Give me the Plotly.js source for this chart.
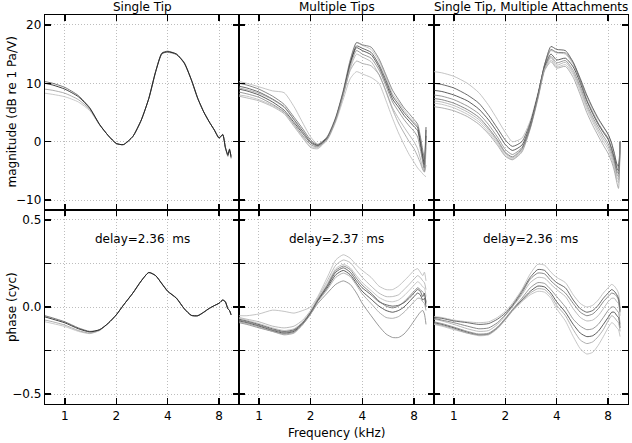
<!DOCTYPE html>
<html>
<head>
<meta charset="utf-8">
<script src="https://cdn.plot.ly/plotly-3.0.1.min.js"></script>
<style>html,body{margin:0;padding:0;background:#fff;}#chart{width:632px;height:443px;}</style>
</head>
<body>
<div id="chart"></div>
<script>
// Frequency samples (kHz)
const freq = [0.765, 0.85, 1.0, 1.2, 1.4, 1.6, 1.8, 2.0, 2.2, 2.5, 2.8, 3.1, 3.4, 3.7, 4.0, 4.5, 5.0, 5.5, 6.0, 6.5, 7.0, 7.5, 8.0, 8.4, 8.7, 9.0, 9.2, 9.4];

const panelTitles = ['Single Tip', 'Multiple Tips', 'Single Tip, Multiple Attachments'];
const delayLabels = ['delay=2.36\u00a0 ms', 'delay=2.37\u00a0 ms', 'delay=2.36\u00a0 ms'];
const xTickVals = [1, 2, 4, 8];
const xTickText = ['1', '2', '4', '8'];
const magTickVals = [-10, 0, 10, 20];
const magTickText = ['\u221210', '0', '10', '20'];
const phTickVals = [-0.5, -0.25, 0, 0.25, 0.5];
const phTickText = ['\u22120.5', '', '0.0', '', '0.5'];

// Magnitude (dB re 1 Pa/V) — Single Tip
const magSingleA = [10.0, 9.7, 9.0, 7.7, 5.7, 2.9, 1.0, -0.3, -0.5, 0.9, 3.7, 7.4, 12.0, 15.1, 15.4, 15.0, 13.5, 10.6, 7.4, 5.1, 3.4, 2.0, 0.6, 1.2, -1.0, -2.2, -1.3, -2.7];
const magSingleB = [10.3, 10.0, 9.3, 7.9, 5.8, 2.9, 1.0, -0.3, -0.5, 0.9, 3.7, 7.4, 12.0, 15.2, 15.5, 15.0, 13.4, 10.6, 7.4, 5.1, 3.4, 2.0, 0.7, 1.2, -0.9, -2.5, -1.5, -2.4];
const magSingleC = [9.0, 8.8, 8.3, 7.2, 5.5, 2.9, 1.0, -0.3, -0.5, 0.9, 3.7, 7.4, 12.0, 15.1, 15.3, 14.9, 13.5, 10.6, 7.4, 5.1, 3.4, 2.0, 0.6, 1.3, -1.1, -2.3, -1.2, -2.9];
const magSingleD = [8.3, 8.1, 7.7, 6.8, 5.3, 2.8, 1.0, -0.3, -0.5, 0.9, 3.7, 7.4, 12.0, 15.0, 15.4, 15.0, 13.6, 10.6, 7.4, 5.1, 3.4, 2.0, 0.6, 1.2, -1.0, -2.2, -1.4, -2.6];

// Magnitude — Multiple Tips
const magMulti1 = [10.3, 10.0, 9.4, 8.7, 8.4, 6.0, 3.2, 0.8, -0.4, 0.8, 4.0, 8.6, 13.6, 16.9, 16.5, 15.8, 13.8, 11.0, 8.2, 6.8, 5.4, 4.3, 3.4, 2.6, 0.5, -2.0, -3.5, 2.5];
const magMulti2 = [9.5, 9.2, 8.5, 7.3, 6.0, 3.8, 1.8, 0.0, -0.6, 0.7, 4.0, 8.5, 13.5, 16.4, 16.0, 15.3, 13.2, 10.5, 7.8, 6.4, 5.0, 4.0, 3.1, 2.4, 0.2, -2.5, -4.0, 2.0];
const magMulti3 = [9.0, 8.7, 8.0, 6.8, 5.4, 3.3, 1.4, -0.2, -0.7, 0.6, 3.9, 8.4, 13.4, 16.1, 15.6, 14.9, 12.8, 10.0, 7.3, 5.9, 4.5, 3.5, 2.6, 1.9, -0.4, -3.0, -4.5, 1.0];
const magMulti4 = [8.5, 8.2, 7.6, 6.4, 5.1, 3.0, 1.0, -0.5, -0.9, 0.5, 3.8, 8.3, 13.0, 15.6, 15.0, 14.3, 12.3, 9.5, 6.8, 5.2, 3.8, 2.7, 1.8, 0.8, -1.2, -3.5, -5.0, 0.0];
const magMulti5 = [7.8, 7.5, 7.0, 6.0, 4.8, 2.6, 0.6, -1.0, -1.2, 0.4, 3.7, 8.0, 12.5, 15.0, 14.5, 13.7, 11.5, 8.7, 5.8, 4.0, 2.5, 1.2, 0.0, -1.2, -2.8, -4.6, -5.2, -1.0];
const magMulti6 = [8.0, 7.8, 7.2, 6.2, 5.0, 2.8, 0.8, -0.8, -1.0, 0.3, 3.4, 7.3, 10.8, 12.0, 11.6, 11.0, 10.0, 7.0, 4.0, 1.5, -0.5, -2.2, -3.5, -4.5, -5.0, -5.5, -5.8, -6.0];
const magMulti7 = [9.2, 8.9, 8.3, 7.2, 5.9, 3.7, 1.5, -0.1, -0.8, 0.5, 3.7, 8.0, 12.2, 13.8, 13.4, 13.0, 11.5, 8.5, 5.5, 3.2, 1.5, 0.0, -1.2, -2.5, -3.6, -4.8, -5.2, -4.0];
const magMulti8 = [10.0, 9.7, 9.0, 7.8, 6.4, 4.2, 2.2, 0.3, -0.5, 0.9, 4.2, 8.8, 14.0, 17.0, 16.6, 16.2, 14.2, 11.4, 8.8, 7.2, 5.8, 4.8, 3.8, 3.0, 1.0, -1.5, -3.0, 2.5];

// Magnitude — Single Tip, Multiple Attachments
const magAttach1 = [12.0, 11.8, 11.2, 10.0, 8.4, 6.2, 3.8, 1.6, 0.0, 0.6, 3.6, 8.2, 13.0, 15.6, 15.2, 15.0, 13.2, 10.5, 7.8, 5.5, 3.8, 2.5, 1.2, -0.5, -2.0, -4.0, -4.5, 0.0];
const magAttach2 = [10.0, 9.8, 9.2, 8.0, 6.6, 4.5, 2.3, 0.3, -0.8, 0.0, 3.2, 8.0, 13.2, 16.3, 15.8, 15.6, 13.6, 10.8, 8.0, 5.8, 4.0, 2.6, 1.3, -0.3, -2.0, -3.8, -4.2, 0.0];
const magAttach3 = [8.8, 8.6, 8.0, 7.0, 5.6, 3.7, 1.6, -0.5, -1.5, -0.6, 2.8, 7.8, 12.8, 15.0, 14.0, 14.3, 12.8, 10.0, 7.0, 4.8, 3.0, 1.6, 0.4, -1.2, -2.8, -4.5, -5.0, 0.0];
const magAttach4 = [8.0, 7.8, 7.2, 6.1, 4.8, 2.9, 0.8, -1.3, -2.2, -1.0, 2.6, 7.6, 12.6, 14.6, 13.5, 13.9, 12.2, 9.4, 6.4, 4.2, 2.5, 1.0, -0.3, -2.0, -3.5, -5.5, -6.0, 0.0];
const magAttach5 = [7.0, 6.8, 6.2, 5.1, 3.8, 2.0, 0.0, -2.0, -2.8, -1.4, 2.4, 7.5, 12.5, 14.4, 13.1, 13.6, 11.8, 9.0, 6.0, 3.8, 2.0, 0.5, -0.8, -2.5, -4.0, -6.0, -6.5, 0.0];
const magAttach6 = [6.6, 6.4, 5.8, 4.7, 3.4, 1.6, -0.3, -2.3, -3.0, -1.6, 2.3, 7.4, 12.4, 14.0, 12.8, 13.2, 11.5, 8.6, 5.6, 3.4, 1.6, 0.0, -1.3, -3.0, -4.5, -6.5, -7.0, 0.0];
const magAttach7 = [6.0, 5.8, 5.3, 4.3, 3.0, 1.3, -0.6, -2.5, -3.1, -1.8, 2.2, 7.2, 12.2, 13.7, 12.6, 12.9, 11.0, 8.0, 5.0, 2.8, 1.0, -0.6, -2.0, -3.5, -5.0, -7.0, -8.0, 0.0];
const magAttach8 = [7.4, 7.2, 6.6, 5.5, 4.2, 2.3, 0.3, -1.8, -2.6, -1.2, 2.5, 7.8, 13.2, 15.8, 15.3, 15.2, 13.5, 10.5, 7.2, 5.0, 3.2, 1.8, 0.6, -1.5, -3.0, -5.0, -5.5, 0.0];

// Phase (cyc) — Single Tip
const phSingleA = [-0.057, -0.07, -0.091, -0.125, -0.143, -0.13, -0.092, -0.045, 0.01, 0.08, 0.15, 0.198, 0.18, 0.133, 0.09, 0.05, -0.01, -0.048, -0.05, -0.03, -0.008, 0.008, 0.022, 0.04, 0.03, -0.01, -0.02, -0.045];
const phSingleB = [-0.05, -0.063, -0.085, -0.12, -0.14, -0.13, -0.092, -0.045, 0.01, 0.08, 0.15, 0.198, 0.18, 0.133, 0.09, 0.052, -0.01, -0.048, -0.05, -0.03, -0.008, 0.008, 0.022, 0.04, 0.03, -0.01, -0.02, -0.045];
const phSingleC = [-0.075, -0.085, -0.104, -0.135, -0.15, -0.133, -0.092, -0.045, 0.01, 0.08, 0.15, 0.198, 0.18, 0.135, 0.093, 0.05, -0.01, -0.048, -0.05, -0.03, -0.008, 0.008, 0.022, 0.04, 0.03, -0.01, -0.02, -0.045];
const phSingleD = [-0.085, -0.095, -0.112, -0.14, -0.153, -0.135, -0.092, -0.045, 0.01, 0.08, 0.15, 0.198, 0.18, 0.133, 0.09, 0.05, -0.01, -0.048, -0.05, -0.03, -0.008, 0.008, 0.022, 0.04, 0.03, -0.01, -0.02, -0.045];

// Phase — Multiple Tips
const phMulti1 = [-0.05, -0.05, -0.04, -0.018, -0.025, -0.035, -0.02, 0.0, 0.06, 0.17, 0.27, 0.30, 0.28, 0.24, 0.21, 0.17, 0.12, 0.10, 0.10, 0.12, 0.15, 0.18, 0.21, 0.22, 0.20, 0.18, 0.20, 0.15];
const phMulti2 = [-0.07, -0.08, -0.10, -0.125, -0.14, -0.13, -0.09, -0.03, 0.04, 0.12, 0.20, 0.225, 0.20, 0.15, 0.11, 0.07, 0.03, 0.013, 0.005, 0.01, 0.025, 0.05, 0.08, 0.10, 0.09, 0.06, 0.08, 0.02];
const phMulti3 = [-0.08, -0.09, -0.11, -0.135, -0.15, -0.14, -0.095, -0.035, 0.035, 0.11, 0.185, 0.21, 0.185, 0.135, 0.09, 0.045, 0.005, -0.02, -0.03, -0.02, 0.0, 0.03, 0.06, 0.08, 0.07, 0.04, 0.05, 0.0];
const phMulti4 = [-0.09, -0.10, -0.12, -0.14, -0.155, -0.145, -0.10, -0.04, 0.02, 0.08, 0.13, 0.15, 0.13, 0.08, 0.02, -0.05, -0.11, -0.155, -0.175, -0.175, -0.155, -0.12, -0.08, -0.05, -0.03, -0.02, -0.04, -0.10];
const phMulti5 = [-0.06, -0.07, -0.085, -0.11, -0.12, -0.11, -0.075, -0.02, 0.05, 0.15, 0.24, 0.27, 0.255, 0.21, 0.17, 0.12, 0.08, 0.06, 0.06, 0.07, 0.10, 0.13, 0.16, 0.18, 0.17, 0.15, 0.14, 0.10];
const phMulti6 = [-0.065, -0.075, -0.095, -0.12, -0.135, -0.125, -0.085, -0.025, 0.045, 0.135, 0.22, 0.245, 0.225, 0.18, 0.14, 0.095, 0.055, 0.035, 0.03, 0.04, 0.065, 0.095, 0.125, 0.145, 0.135, 0.115, 0.11, 0.06];
const phMulti7 = [-0.085, -0.095, -0.115, -0.14, -0.16, -0.15, -0.10, -0.04, 0.03, 0.10, 0.17, 0.195, 0.175, 0.125, 0.075, 0.02, -0.03, -0.06, -0.065, -0.055, -0.03, 0.0, 0.03, 0.05, 0.05, 0.03, 0.02, -0.02];
const phMulti8 = [-0.075, -0.085, -0.105, -0.13, -0.145, -0.135, -0.09, -0.03, 0.04, 0.125, 0.21, 0.235, 0.215, 0.165, 0.125, 0.08, 0.035, 0.005, -0.005, 0.005, 0.03, 0.06, 0.09, 0.11, 0.10, 0.085, 0.075, 0.03];

// Phase — Single Tip, Multiple Attachments
const phAttach1 = [-0.055, -0.06, -0.075, -0.085, -0.09, -0.085, -0.06, -0.025, 0.02, 0.10, 0.19, 0.245, 0.24, 0.20, 0.17, 0.14, 0.07, 0.02, 0.0, 0.01, 0.04, 0.08, 0.11, 0.13, 0.12, 0.10, 0.08, 0.0];
const phAttach2 = [-0.06, -0.065, -0.08, -0.09, -0.10, -0.095, -0.07, -0.035, 0.01, 0.09, 0.17, 0.215, 0.21, 0.17, 0.14, 0.11, 0.04, -0.01, -0.03, -0.02, 0.01, 0.05, 0.08, 0.10, 0.09, 0.07, 0.05, -0.02];
const phAttach3 = [-0.09, -0.10, -0.12, -0.145, -0.16, -0.155, -0.12, -0.07, -0.02, 0.04, 0.09, 0.12, 0.115, 0.08, 0.03, -0.03, -0.10, -0.15, -0.17, -0.165, -0.14, -0.10, -0.06, -0.03, -0.03, -0.05, -0.06, -0.12];
const phAttach4 = [-0.085, -0.095, -0.115, -0.14, -0.155, -0.15, -0.115, -0.065, -0.015, 0.05, 0.11, 0.14, 0.135, 0.10, 0.06, 0.0, -0.07, -0.11, -0.13, -0.125, -0.10, -0.06, -0.02, 0.0, 0.0, -0.02, -0.03, -0.10];
const phAttach5 = [-0.07, -0.08, -0.10, -0.125, -0.14, -0.135, -0.10, -0.05, 0.0, 0.07, 0.14, 0.17, 0.165, 0.13, 0.10, 0.06, -0.01, -0.06, -0.08, -0.075, -0.05, -0.01, 0.03, 0.05, 0.05, 0.03, 0.02, -0.05];
const phAttach6 = [-0.10, -0.11, -0.13, -0.15, -0.165, -0.16, -0.125, -0.075, -0.025, 0.03, 0.07, 0.09, 0.085, 0.05, -0.01, -0.08, -0.17, -0.24, -0.27, -0.26, -0.22, -0.17, -0.12, -0.09, -0.10, -0.12, -0.13, -0.17];
const phAttach7 = [-0.095, -0.105, -0.125, -0.15, -0.16, -0.155, -0.12, -0.07, -0.02, 0.035, 0.08, 0.105, 0.10, 0.065, 0.01, -0.05, -0.13, -0.19, -0.21, -0.20, -0.17, -0.13, -0.08, -0.05, -0.06, -0.08, -0.09, -0.14];
const phAttach8 = [-0.065, -0.075, -0.09, -0.11, -0.125, -0.12, -0.09, -0.045, 0.005, 0.08, 0.16, 0.195, 0.19, 0.15, 0.12, 0.08, 0.02, -0.03, -0.05, -0.04, -0.01, 0.03, 0.06, 0.08, 0.075, 0.06, 0.04, -0.03];

const singleShades = ['#bbbbbb', '#999999', '#555555', '#111111'];
const multiShades = ['#b5b5b5', '#444444', '#333333', '#808080', '#aaaaaa', '#b8b8b8', '#9a9a9a', '#6a6a6a'];

const panels = [
  {curves: [magSingleD, magSingleC, magSingleB, magSingleA], shades: singleShades, ax: 1},
  {curves: [magMulti1, magMulti2, magMulti3, magMulti4, magMulti5, magMulti6, magMulti7, magMulti8], shades: multiShades, ax: 2},
  {curves: [magAttach1, magAttach2, magAttach3, magAttach4, magAttach5, magAttach6, magAttach7, magAttach8], shades: multiShades, ax: 3},
  {curves: [phSingleD, phSingleC, phSingleB, phSingleA], shades: singleShades, ax: 4},
  {curves: [phMulti1, phMulti2, phMulti3, phMulti4, phMulti5, phMulti6, phMulti7, phMulti8], shades: multiShades, ax: 5},
  {curves: [phAttach1, phAttach2, phAttach3, phAttach4, phAttach5, phAttach6, phAttach7, phAttach8], shades: multiShades, ax: 6}
];

const traces = [];
panels.forEach(p => {
  p.curves.forEach((c, i) => {
    traces.push({
      x: freq, y: c, type: 'scatter', mode: 'lines',
      xaxis: 'x' + p.ax, yaxis: 'y' + p.ax,
      line: {color: p.shades[i % p.shades.length], width: 0.8, shape: 'spline', smoothing: 0.6},
      hoverinfo: 'skip', showlegend: false
    });
  });
});

const FONT = 'DejaVu Sans, sans-serif';
const FS = 12;
const xDomains = [[0, 0.3328], [0.3328, 0.6672], [0.6672, 1]];
const yTop = [0.4987, 1], yBot = [0, 0.4987];

const common = {
  showline: true, linecolor: '#000', linewidth: 1.2, mirror: 'ticks',
  ticks: 'inside', ticklen: 6, tickwidth: 1.5, tickcolor: '#000',
  showgrid: true, gridcolor: '#bdbdbd', griddash: '1px,2px', gridwidth: 1,
  zeroline: false, fixedrange: true,
  tickfont: {family: FONT, size: FS, color: '#000'}
};

const layout = {
  width: 632, height: 443,
  margin: {l: 45, r: 4, t: 15, b: 39},
  paper_bgcolor: '#fff', plot_bgcolor: '#fff',
  showlegend: false, hovermode: false,
  font: {family: FONT, size: FS, color: '#000'},
  annotations: []
};

for (let i = 1; i <= 6; i++) {
  const col = (i - 1) % 3;
  const top = i <= 3;
  layout['xaxis' + i] = Object.assign({}, common, {
    domain: xDomains[col], anchor: 'y' + i, type: 'log',
    range: [Math.log10(0.765), Math.log10(10.46)],
    tickvals: xTickVals, ticktext: xTickText,
    showticklabels: !top
  });
  layout['yaxis' + i] = Object.assign({}, common, {
    domain: top ? yTop : yBot, anchor: 'x' + i,
    range: top ? [-11.7, 21.7] : [-0.557, 0.557],
    tickvals: top ? magTickVals : phTickVals,
    ticktext: top ? magTickText : phTickText,
    showticklabels: col === 0
  });
}

panelTitles.forEach((t, k) => {
  layout.annotations.push({
    text: t, xref: 'x' + (k + 1) + ' domain', x: 0.5, yref: 'paper', y: 1,
    xanchor: 'center', yanchor: 'bottom', yshift: -1, showarrow: false,
    font: {family: FONT, size: FS, color: '#000'}
  });
  layout.annotations.push({
    text: delayLabels[k], xref: 'x' + (k + 4) + ' domain', x: 0.5, yref: 'y' + (k + 4), y: 0.39,
    xanchor: 'center', yanchor: 'middle', showarrow: false,
    font: {family: FONT, size: FS, color: '#000'}
  });
});

layout.annotations.push({
  text: 'magnitude (dB re 1 Pa/V)', textangle: -90, xref: 'paper', x: 0, xshift: -33,
  yref: 'y domain', y: 0.5, xanchor: 'center', yanchor: 'middle', showarrow: false,
  font: {family: FONT, size: FS, color: '#000'}
});
layout.annotations.push({
  text: 'phase (cyc)', textangle: -90, xref: 'paper', x: 0, xshift: -33,
  yref: 'y4 domain', y: 0.5, xanchor: 'center', yanchor: 'middle', showarrow: false,
  font: {family: FONT, size: FS, color: '#000'}
});
layout.annotations.push({
  text: 'Frequency (kHz)', xref: 'paper', x: 0.5, yref: 'paper', y: 0, yshift: -29,
  xanchor: 'center', yanchor: 'middle', showarrow: false,
  font: {family: FONT, size: FS, color: '#000'}
});

Plotly.newPlot('chart', traces, layout, {staticPlot: true, displayModeBar: false});
</script>
</body>
</html>
